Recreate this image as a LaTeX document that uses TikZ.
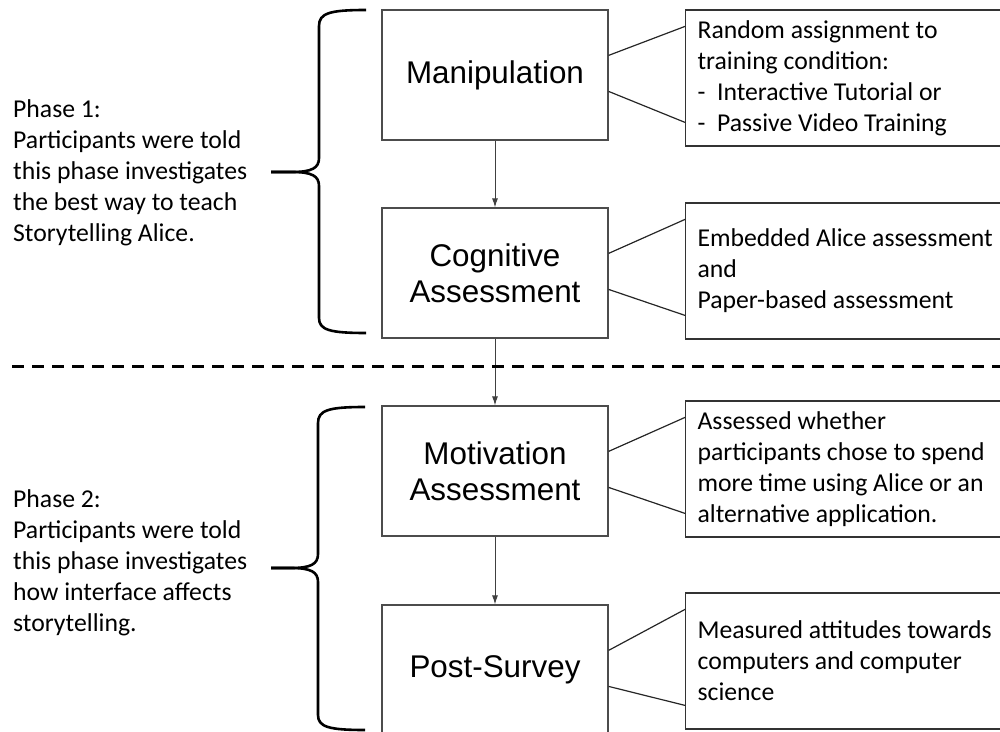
\documentclass[tikz,border=0pt]{standalone}
\usepackage{fontspec}
\setmainfont{Carlito}
\newfontfamily\arialfont{Liberation Sans}
\usetikzlibrary{arrows.meta,calc}
\begin{document}
\begin{tikzpicture}[x=1bp,y=-1bp,
  stepbox/.style={draw=black!70, line width=1.2bp, minimum width=226bp, minimum height=130bp, inner sep=0pt, align=center, font=\arialfont\fontsize{31.5}{36}\selectfont},
  notebox/.style={draw=black!80, line width=1.2bp, minimum height=136bp, text width=320bp, inner xsep=12bp, inner ysep=0pt, align=flush left, anchor=west, font=\fontsize{25.8}{31}\selectfont},
  phasetext/.style={align=flush left, inner sep=0pt, anchor=west, font=\fontsize{25.8}{31}\selectfont},
  flow/.style={draw=black!75, line width=1bp, -{Latex[length=9bp,width=6bp]}},
  link/.style={draw=black!85, line width=1.2bp},
  bracepath/.style={draw=black, line width=2.6bp},
  sepline/.style={draw=black, line width=3bp, dash pattern=on 12bp off 8bp}]
\useasboundingbox (0,0) rectangle (1000,732);

% left step boxes
\node[stepbox] (man) at (495,75) {Manipulation};
\node[stepbox] (cog) at (495,273) {Cognitive\\Assessment};
\node[stepbox] (mot) at (495,471) {Motivation\\Assessment};
\node[stepbox] (post) at (495,670) {Post-Survey};

% right note boxes
\node[notebox] (n1) at (685,78) {Random assignment to\\training condition:\\-\ \ Interactive Tutorial or\\-\ \ Passive Video Training};
\node[notebox] (n2) at (685,271) {Embedded Alice assessment\\and\\Paper-based assessment};
\node[notebox] (n3) at (685,469) {Assessed whether\\participants chose to spend\\more time using Alice or an\\alternative application.};
\node[notebox] (n4) at (685,661) {Measured attitudes towards\\computers and computer\\science};

% flow arrows
\draw[flow] (man) -- (cog);
\draw[flow] (cog) -- (mot);
\draw[flow] (mot) -- (post);

% links to notes
\foreach \a/\b in {man/n1, cog/n2, mot/n3, post/n4}{
  \draw[link] ($(\a.north east)+(0,46)$) -- ($(\b.north west)+(0,17)$);
  \draw[link] ($(\a.north east)+(0,82)$) -- ($(\b.north west)+(0,113)$);
}

% phase texts
\node[phasetext] (p1) at (13,173) {Phase 1:\\Participants were told\\this phase investigates\\the best way to teach\\Storytelling Alice.};
\node[phasetext] (p2) at (13,563) {Phase 2:\\Participants were told\\this phase investigates\\how interface affects\\storytelling.};

% braces
\draw[bracepath] (366,10) .. controls (330,10) and (319,13) .. (319,26) -- (319,158)
  .. controls (319,168) and (312,172) .. (292,172) -- (271,172);
\draw[bracepath] (271,172) -- (292,172) .. controls (312,172) and (319,176) .. (319,186)
  -- (319,318) .. controls (319,330) and (330,333) .. (366,333);
\draw[bracepath] (365,407) .. controls (329,407) and (318,410) .. (318,423) -- (318,554)
  .. controls (318,564) and (311,568) .. (291,568) -- (271,568);
\draw[bracepath] (271,568) -- (291,568) .. controls (311,568) and (318,572) .. (318,582)
  -- (318,715) .. controls (318,727) and (329,730) .. (365,730);

% phase separator
\draw[sepline] (12,366) -- (1000,366);
\end{tikzpicture}
\end{document}
